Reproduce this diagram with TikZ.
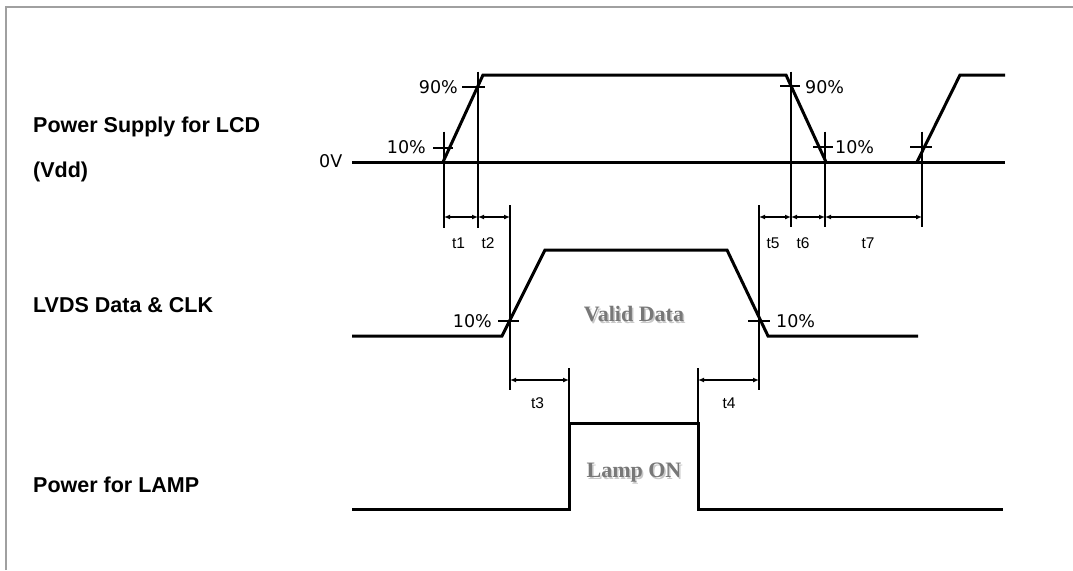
\documentclass[tikz,border=0pt]{standalone}
\usepackage{fontspec}
\setmainfont{Liberation Sans}
\newfontfamily\dvfont{DejaVu Sans}
\newfontfamily\lsfont{Liberation Sans}
\newfontfamily\lsrfont{Liberation Serif}
\usetikzlibrary{arrows.meta}
\definecolor{frame}{RGB}{160,160,160}
\definecolor{graytxt}{RGB}{120,120,120}
\definecolor{shadowtxt}{RGB}{200,200,200}
\begin{document}
\begin{tikzpicture}[x=1pt,y=-1pt,
  sig/.style={line width=3pt, line join=miter},
  ext/.style={line width=1.4pt},
  tick/.style={line width=1.4pt},
  dim/.style={line width=1.3pt, {Latex[length=6pt,width=5pt]}-{Latex[length=6pt,width=5pt]}},
  lbl/.style={font=\lsfont\bfseries\fontsize{21.5}{24}\selectfont, anchor=base west, inner sep=0},
  pct/.style={font=\dvfont\fontsize{17.5}{20}\selectfont, inner sep=0},
  tl/.style={font=\lsfont\fontsize{15.5}{18}\selectfont, inner sep=0, anchor=base},
  gr/.style={font=\lsrfont\bfseries\fontsize{22}{24}\selectfont, text=graytxt, inner sep=0, anchor=base},
  grs/.style={font=\lsrfont\bfseries\fontsize{22}{24}\selectfont, text=shadowtxt, inner sep=0, anchor=base}]
\useasboundingbox (0,0) rectangle (1073,570);
\draw[frame, line width=2pt] (6,570) -- (6,7) -- (1073,7);

% key coordinates
\coordinate (v0) at (352,162);  \coordinate (v0e) at (1005,162);
\coordinate (r1a) at (443,162); \coordinate (r1b) at (483,75);
\coordinate (f1a) at (786,75);  \coordinate (f1b) at (826,162);
\coordinate (r2a) at (917,162); \coordinate (r2b) at (960,75);
\coordinate (r2e) at (1005,75);

% Vdd signal
\draw[sig] (v0) -- (v0e);
\draw[sig] (r1a) -- (r1b) -- (f1a) -- (f1b);
\draw[sig] (r2a) -- (r2b) -- (r2e);

% LVDS signal
\draw[sig] (352,336) -- (502,336) -- (545,250) -- (727,250) -- (768,336) -- (918,336);

% Lamp signal
\draw[sig] (352,509) -- (569,509) -- (569,423) -- (698,423) -- (698,509) -- (1003,509);

% extension lines
\draw[ext] (444,131.7) -- (444,228);
\draw[ext] (478,71.7) -- (478,228);
\draw[ext] (510,205) -- (510,390);
\draw[ext] (759,205) -- (759,390);
\draw[ext] (791,71.7) -- (791,227);
\draw[ext] (825,131.7) -- (825,227);
\draw[ext] (922,131.7) -- (922,227);
\draw[ext] (569,368) -- (569,423);
\draw[ext] (698,368) -- (698,423);

% ticks
\draw[tick] (433,148) -- (453,148);
\draw[tick] (462,87) -- (485,87);
\draw[tick] (780,86) -- (800,86);
\draw[tick] (813,147) -- (833,147);
\draw[tick] (910,147) -- (932,147);
\draw[tick] (498,321) -- (519,321);
\draw[tick] (748,321) -- (770,321);

% dimension arrows
\draw[dim] (444,217) -- (478,217);
\draw[dim] (478,217) -- (510,217);
\draw[dim] (759,217) -- (791,217);
\draw[dim] (791,217) -- (825,217);
\draw[dim] (825,217) -- (922,217);
\draw[dim] (510,380) -- (569,380);
\draw[dim] (698,380) -- (759,380);

% time labels
\node[tl] (t1) at (458.5,248.5) {t1};
\node[tl] (t2) at (488,248.5) {t2};
\node[tl] (t5) at (773,248.5) {t5};
\node[tl] (t6) at (803,248.5) {t6};
\node[tl] (t7) at (868,248.5) {t7};
\node[tl] (t3) at (537.5,408.5) {t3};
\node[tl] (t4) at (729,408.5) {t4};

% percent labels
\node[pct, anchor=base east] (p90l) at (458,93.4) {90\%};
\node[pct, anchor=base east] (p10l) at (426,153.4) {10\%};
\node[pct, anchor=base west] (p90r) at (805,93) {90\%};
\node[pct, anchor=base west] (p10r) at (835,153.5) {10\%};
\node[pct, anchor=base west] (zv) at (319,167.4) {0V};
\node[pct, anchor=base east] (p10ll) at (492,327.4) {10\%};
\node[pct, anchor=base west] (p10lr) at (776,327.4) {10\%};

% row labels
\node[lbl] (l1) at (33,132) {Power Supply for LCD};
\node[lbl] (l1b) at (33,177) {(Vdd)};
\node[lbl] (l2) at (33,312) {LVDS Data \& CLK};
\node[lbl] (l3) at (33,492) {Power for LAMP};

% gray texts
\node[grs] at (635.5,323) {Valid Data};
\node[gr] (vd) at (634,321.5) {Valid Data};
\node[grs] at (635.5,479) {Lamp ON};
\node[gr] (lo) at (634,477.5) {Lamp ON};
\end{tikzpicture}
\end{document}
